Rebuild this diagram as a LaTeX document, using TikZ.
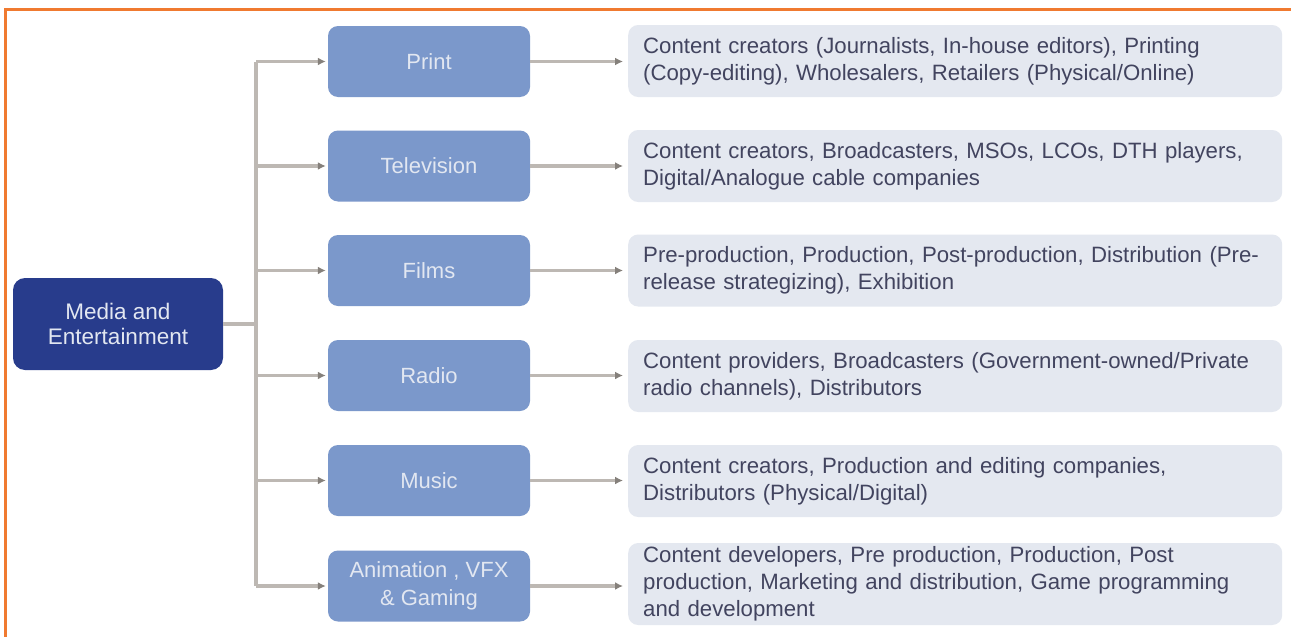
\documentclass[tikz,border=0pt]{standalone}
\usepackage{fontspec}
\setmainfont{Liberation Sans}
\usetikzlibrary{arrows.meta}
\definecolor{orangeb}{HTML}{F07A30}
\definecolor{navy}{HTML}{283C8C}
\definecolor{midblue}{HTML}{7B98CB}
\definecolor{midtext}{HTML}{E2E7F1}
\definecolor{rightfill}{HTML}{E4E8F0}
\definecolor{righttext}{HTML}{42445F}
\definecolor{conn}{HTML}{BDB8B3}
\definecolor{connhead}{HTML}{85807B}
\tikzset{
  mainbox/.style={draw=none, fill=navy, rounded corners=12pt, minimum width=210pt, minimum height=92pt,
    text=midtext, align=center, font=\fontsize{22.5}{25}\selectfont, inner sep=0pt},
  midbox/.style={draw=none, fill=midblue, rounded corners=10pt, minimum width=202pt, minimum height=71pt,
    text=midtext, align=center, font=\fontsize{22}{28}\selectfont, inner sep=0pt},
  rightbox/.style={draw=none, fill=rightfill, rounded corners=10pt, minimum height=72pt,
    text width=624pt, inner xsep=15pt, inner ysep=0pt, anchor=west,
    text=righttext, align=left, font=\fontsize{22.2}{27}\selectfont},
  connline/.style={draw=conn, line width=3.5pt},
  connarrow/.style={connline, -{Latex[length=8pt,width=8pt,color=connhead]}},
}
\begin{document}
\begin{tikzpicture}[x=1pt,y=-1pt]
\useasboundingbox (0,0) rectangle (1291,637);
\fill[white] (0,0) rectangle (1291,637);
\draw[orangeb, line width=3pt] (5,637) -- (5,9.5) -- (1291,9.5);

\node[mainbox] (main) at (118,324) {Media and\\Entertainment};

\node[midbox] (print) at (429,61.5) {Print};
\node[midbox] (tv) at (429,166) {Television};
\node[midbox] (films) at (429,270.5) {Films};
\node[midbox] (radio) at (429,375.5) {Radio};
\node[midbox] (music) at (429,480.5) {Music};
\node[midbox] (anim) at (429,586) {Animation , VFX\\\& Gaming};

\node[rightbox] (rprint) at (628,61) {Content creators (Journalists, In-house editors), Printing\\(Copy-editing), Wholesalers, Retailers (Physical/Online)};
\node[rightbox] (rtv) at (628,166) {Content creators, Broadcasters, MSOs, LCOs, DTH players,\\Digital/Analogue cable companies};
\node[rightbox] (rfilms) at (628,270.5) {Pre-production, Production, Post-production, Distribution (Pre-\\release strategizing), Exhibition};
\node[rightbox] (rradio) at (628,376) {Content providers, Broadcasters (Government-owned/Private\\radio channels), Distributors};
\node[rightbox] (rmusic) at (628,481) {Content creators, Production and editing companies,\\Distributors (Physical/Digital)};
\node[rightbox, minimum height=82pt] (ranim) at (628,584) {Content developers, Pre production, Production, Post\\production, Marketing and distribution, Game programming\\and development};

\coordinate (trk) at (256,0);
\draw[connline] (main.east) -- (main.east -| trk);
\draw[connline] (print.west -| trk) -- (anim.west -| trk);
\foreach \n in {print,tv,films,radio,music,anim}{
  \draw[connarrow, shorten >=2pt] (\n.west -| trk) -- (\n.west);
}
\draw[connarrow, shorten >=5pt] (print.east) -- (print.east -| rprint.west);
\draw[connarrow, shorten >=5pt] (tv.east) -- (tv.east -| rtv.west);
\draw[connarrow, shorten >=5pt] (films.east) -- (films.east -| rfilms.west);
\draw[connarrow, shorten >=5pt] (radio.east) -- (radio.east -| rradio.west);
\draw[connarrow, shorten >=5pt] (music.east) -- (music.east -| rmusic.west);
\draw[connarrow, shorten >=5pt] (anim.east) -- (anim.east -| ranim.west);
\end{tikzpicture}
\end{document}
